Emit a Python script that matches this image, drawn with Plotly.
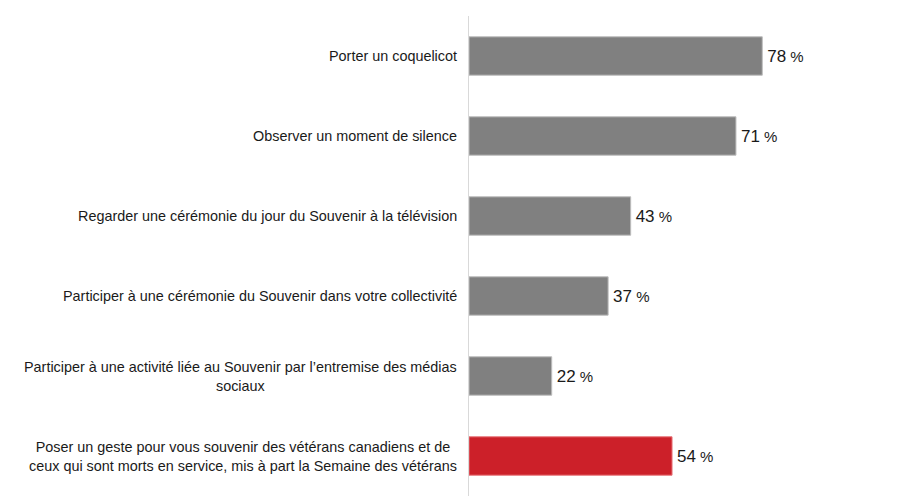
"""Souvenir activities - horizontal bar chart."""
import plotly.graph_objects as go

activities = [
    "Porter un coquelicot",
    "Observer un moment de silence",
    "Regarder une cérémonie du jour du Souvenir à la télévision",
    "Participer à une cérémonie du Souvenir dans votre collectivité",
    "Participer à une activité liée au Souvenir par l’entremise des médias<br>sociaux",
    "Poser un geste pour vous souvenir des vétérans canadiens et de<br>ceux qui sont morts en service, mis à part la Semaine des vétérans",
]
percents = [78, 71, 43, 37, 22, 54]
bar_colors = ["#808080"] * 5 + ["#cc2029"]
edge_colors = ["#bdbdbd"] * 5 + ["#e8757a"]

keys = [str(i) for i in range(len(activities))]

fig = go.Figure(go.Bar(
    x=percents,
    y=keys,
    orientation="h",
    width=0.48,
    marker=dict(color=bar_colors, line=dict(color=edge_colors, width=1)),
    text=[f"<span style='font-size:7px'>\u00a0</span>{p}"
          f"<span style='font-size:15px'> %</span>" for p in percents],
    textposition="outside",
    textfont=dict(size=17, color="#1a1a1a"),
    constraintext="none",
    cliponaxis=False,
))

# category labels as centred annotations (plotly tick labels can't centre lines)
for k, label in zip(keys, activities):
    fig.add_annotation(
        x=0, xref="paper", y=k, yref="y",
        text=label, showarrow=False,
        xanchor="right", xshift=-10, align="center",
        font=dict(size=14.4, color="#1a1a1a"),
    )

# page body adds an 8px offset, so the figure is a bit smaller than the window
fig.update_layout(
    width=892, height=488,
    margin=dict(l=461, r=55, t=8, b=0),
    paper_bgcolor="white", plot_bgcolor="white",
    font=dict(family="Liberation Sans, Arial, sans-serif"),
    showlegend=False,
)
fig.update_xaxes(range=[0, 100], visible=False, fixedrange=True)
fig.update_yaxes(
    autorange="reversed", showticklabels=False, showgrid=False,
    showline=True, linecolor="#d9d9d9", linewidth=1, zeroline=False,
)

fig.write_html("out.html")
